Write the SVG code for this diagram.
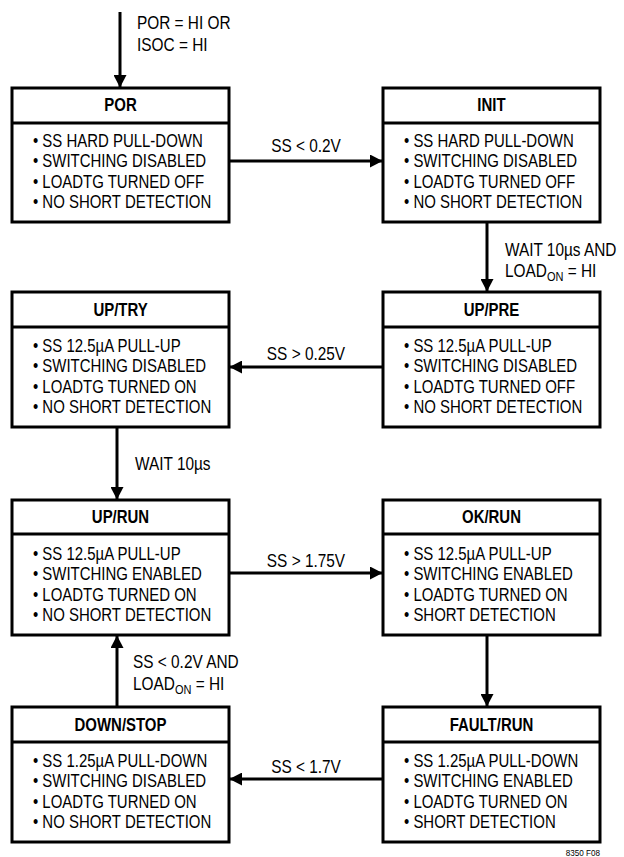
<svg xmlns="http://www.w3.org/2000/svg" width="624" height="857" viewBox="0 0 624 857">
<style>
text{font-family:"Liberation Sans",Arial,sans-serif;font-size:17.5px;fill:#000;transform-box:fill-box;transform:scaleX(0.855);}
.h{font-weight:bold;text-anchor:middle;transform-origin:50% 50%;}
.b{transform-origin:0 50%;}
.c{text-anchor:middle;transform-origin:50% 50%;transform:scaleX(0.88);}
.l{transform-origin:0 50%;transform:scaleX(0.88);}
.sub{font-size:12.5px;}
.box{fill:#fff;stroke:#000;stroke-width:3;}
.div{stroke:#000;stroke-width:3;}
.con line{stroke:#000;stroke-width:3;marker-end:url(#ah);}
.fig{font-size:9.5px;text-anchor:end;transform-origin:100% 50%;}
</style>
<defs>
<marker id="ah" markerUnits="userSpaceOnUse" markerWidth="13" markerHeight="13" refX="12" refY="6.5" orient="auto">
<path d="M0,0 L12.5,6.5 L0,13 z" fill="#000"/>
</marker>
</defs>
<rect width="624" height="857" fill="#fff"/>

<g id="connectors" class="con">
<line x1="120" y1="12" x2="120" y2="87"/>
<line x1="229" y1="161" x2="382" y2="161"/>
<line x1="487" y1="222" x2="487" y2="291"/>
<line x1="383" y1="367" x2="230" y2="367"/>
<line x1="117" y1="427" x2="117" y2="499"/>
<line x1="229" y1="573" x2="382" y2="573"/>
<line x1="487" y1="635" x2="487" y2="706"/>
<line x1="383" y1="779" x2="230" y2="779"/>
<line x1="117" y1="707" x2="117" y2="636"/>
</g>

<g id="labels">
<text class="l" x="137" y="29">POR = HI OR</text>
<text class="l" x="137" y="51">ISOC = HI</text>
<text class="c" x="306" y="152">SS &lt; 0.2V</text>
<text class="l" x="505" y="256">WAIT 10µs AND</text>
<text class="l" x="505" y="277">LOAD<tspan class="sub" dy="4">ON</tspan><tspan dy="-4"> = HI</tspan></text>
<text class="c" x="306" y="360">SS &gt; 0.25V</text>
<text class="l" x="135" y="470">WAIT 10µs</text>
<text class="c" x="306" y="567">SS &gt; 1.75V</text>
<text class="l" x="133" y="668">SS &lt; 0.2V AND</text>
<text class="l" x="133" y="690">LOAD<tspan class="sub" dy="4">ON</tspan><tspan dy="-4"> = HI</tspan></text>
<text class="c" x="306" y="773">SS &lt; 1.7V</text>
</g>

<g id="node-por">
<rect class="box" x="12" y="88" width="217" height="134"/>
<line class="div" x1="12" y1="123" x2="229" y2="123"/>
<text class="h" x="120.5" y="111">POR</text>
<text class="b" x="33" y="147">• SS HARD PULL-DOWN</text>
<text class="b" x="33" y="167.5">• SWITCHING DISABLED</text>
<text class="b" x="33" y="188">• LOADTG TURNED OFF</text>
<text class="b" x="33" y="208.5">• NO SHORT DETECTION</text>
</g>

<g id="node-init">
<rect class="box" x="383" y="88" width="217" height="134"/>
<line class="div" x1="383" y1="123" x2="600" y2="123"/>
<text class="h" x="491.5" y="111">INIT</text>
<text class="b" x="404" y="147">• SS HARD PULL-DOWN</text>
<text class="b" x="404" y="167.5">• SWITCHING DISABLED</text>
<text class="b" x="404" y="188">• LOADTG TURNED OFF</text>
<text class="b" x="404" y="208.5">• NO SHORT DETECTION</text>
</g>

<g id="node-uptry">
<rect class="box" x="12" y="292" width="217" height="135"/>
<line class="div" x1="12" y1="327" x2="229" y2="327"/>
<text class="h" x="120.5" y="316">UP/TRY</text>
<text class="b" x="33" y="352">• SS 12.5µA PULL-UP</text>
<text class="b" x="33" y="372.5">• SWITCHING DISABLED</text>
<text class="b" x="33" y="393">• LOADTG TURNED ON</text>
<text class="b" x="33" y="413.5">• NO SHORT DETECTION</text>
</g>

<g id="node-uppre">
<rect class="box" x="383" y="292" width="217" height="135"/>
<line class="div" x1="383" y1="327" x2="600" y2="327"/>
<text class="h" x="491.5" y="316">UP/PRE</text>
<text class="b" x="404" y="352">• SS 12.5µA PULL-UP</text>
<text class="b" x="404" y="372.5">• SWITCHING DISABLED</text>
<text class="b" x="404" y="393">• LOADTG TURNED OFF</text>
<text class="b" x="404" y="413.5">• NO SHORT DETECTION</text>
</g>

<g id="node-uprun">
<rect class="box" x="12" y="500" width="217" height="135"/>
<line class="div" x1="12" y1="534" x2="229" y2="534"/>
<text class="h" x="120.5" y="523">UP/RUN</text>
<text class="b" x="33" y="560">• SS 12.5µA PULL-UP</text>
<text class="b" x="33" y="580.5">• SWITCHING ENABLED</text>
<text class="b" x="33" y="601">• LOADTG TURNED ON</text>
<text class="b" x="33" y="621.5">• NO SHORT DETECTION</text>
</g>

<g id="node-okrun">
<rect class="box" x="383" y="500" width="217" height="135"/>
<line class="div" x1="383" y1="534" x2="600" y2="534"/>
<text class="h" x="491.5" y="523">OK/RUN</text>
<text class="b" x="404" y="560">• SS 12.5µA PULL-UP</text>
<text class="b" x="404" y="580.5">• SWITCHING ENABLED</text>
<text class="b" x="404" y="601">• LOADTG TURNED ON</text>
<text class="b" x="404" y="621.5">• SHORT DETECTION</text>
</g>

<g id="node-downstop">
<rect class="box" x="12" y="707" width="217" height="135"/>
<line class="div" x1="12" y1="742" x2="229" y2="742"/>
<text class="h" x="120.5" y="731">DOWN/STOP</text>
<text class="b" x="33" y="767">• SS 1.25µA PULL-DOWN</text>
<text class="b" x="33" y="787.5">• SWITCHING DISABLED</text>
<text class="b" x="33" y="808">• LOADTG TURNED ON</text>
<text class="b" x="33" y="828.5">• NO SHORT DETECTION</text>
</g>

<g id="node-faultrun">
<rect class="box" x="383" y="707" width="217" height="135"/>
<line class="div" x1="383" y1="742" x2="600" y2="742"/>
<text class="h" x="491.5" y="731">FAULT/RUN</text>
<text class="b" x="404" y="767">• SS 1.25µA PULL-DOWN</text>
<text class="b" x="404" y="787.5">• SWITCHING ENABLED</text>
<text class="b" x="404" y="808">• LOADTG TURNED ON</text>
<text class="b" x="404" y="828.5">• SHORT DETECTION</text>
</g>

<text class="fig" x="600" y="856">8350 F08</text>
</svg>
